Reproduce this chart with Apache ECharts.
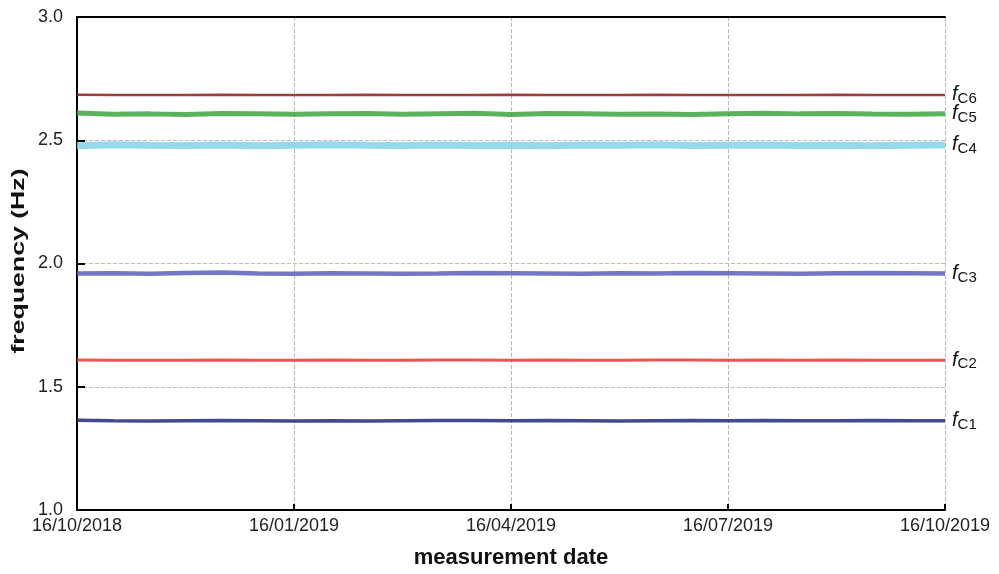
<!DOCTYPE html>
<html><head><meta charset="utf-8">
<script src="https://cdn.jsdelivr.net/npm/echarts@6/dist/echarts.min.js"></script>
<style>html,body{margin:0;padding:0;background:#fff}#c{width:999px;height:574px}</style>
</head><body><div id="c"></div>
<script>
// x positions in months since 16/10/2018 (half-month steps)
const months = [0,0.5,1,1.5,2,2.5,3,3.5,4,4.5,5,5.5,6,6.5,7,7.5,8,8.5,9,9.5,10,10.5,11,11.5,12];
const xTickLabels = ['16/10/2018','16/01/2019','16/04/2019','16/07/2019','16/10/2019'];
const fC1 = [1.364,1.362,1.361,1.362,1.363,1.362,1.361,1.362,1.361,1.362,1.363,1.363,1.362,1.363,1.362,1.361,1.362,1.363,1.362,1.363,1.362,1.362,1.363,1.362,1.362];
const fC2 = [1.609,1.608,1.607,1.608,1.609,1.608,1.608,1.609,1.608,1.608,1.609,1.609,1.608,1.609,1.608,1.607,1.609,1.609,1.608,1.609,1.608,1.609,1.608,1.608,1.608];
const fC3 = [1.959,1.960,1.958,1.961,1.963,1.959,1.958,1.960,1.959,1.958,1.959,1.961,1.960,1.959,1.958,1.960,1.959,1.961,1.960,1.959,1.958,1.960,1.961,1.960,1.959];
const fC4 = [2.478,2.482,2.480,2.479,2.481,2.478,2.480,2.482,2.480,2.479,2.481,2.479,2.480,2.478,2.481,2.480,2.482,2.479,2.480,2.481,2.479,2.480,2.478,2.480,2.481];
const fC5 = [2.611,2.605,2.607,2.604,2.609,2.607,2.605,2.607,2.609,2.605,2.608,2.610,2.604,2.609,2.607,2.605,2.606,2.604,2.608,2.610,2.607,2.609,2.606,2.605,2.607];
const fC6 = [2.685,2.684,2.684,2.684,2.685,2.684,2.684,2.684,2.685,2.684,2.684,2.684,2.685,2.684,2.684,2.684,2.685,2.684,2.684,2.684,2.684,2.685,2.684,2.684,2.684];
const seriesNames = ['C1','C2','C3','C4','C5','C6'];
const seriesData = [fC1,fC2,fC3,fC4,fC5,fC6];
const yTitle = 'frequency (Hz)';
const xTitle = 'measurement date';
const colors = ['#22297a','#e5373a','#5a5ebd','#82d2ea','#3fa43f','#8e1b20'];
const widths = [3.5,3,4.5,7,5,2.5];
const FONT = 'Liberation Sans, Arial, sans-serif';

const chart = echarts.init(document.getElementById('c'), null, {renderer:'canvas'});
const series = seriesNames.map((n,i)=>({
  name:'f'+n, type:'line', showSymbol:false, symbol:'none',
  data: months.map((m,k)=>[m, seriesData[i][k]]),
  lineStyle:{color:colors[i], width:widths[i], opacity:0.85},
  itemStyle:{color:colors[i]},
  z: 3+i,
  endLabel:{show:true, distance:7,
    formatter:'{f|f}{s|'+n+'}',
    rich:{
      f:{fontFamily:FONT, fontStyle:'italic', fontSize:20, color:'#111'},
      s:{fontFamily:FONT, fontSize:15, color:'#111', padding:[8,0,0,0]}
    }
  }
}));
const frame = {show:true, lineStyle:{color:'#000', width:2}};
chart.setOption({
  animation:false,
  grid:{left:77, right:54, top:17, bottom:64, containLabel:false, outerBoundsMode:'none'},
  graphic:[{type:'text', x:19, y:261, rotation:Math.PI/2, scaleX:1.48, z:10,
    style:{text:yTitle, fontFamily:FONT, fontSize:18, fontWeight:'bold', fill:'#111',
      align:'center', verticalAlign:'middle'}}],
  xAxis:[{type:'value', min:0, max:12, interval:3,
    name:xTitle, nameLocation:'middle', nameGap:37,
    nameTextStyle:{fontFamily:FONT, fontSize:22, fontWeight:'bold', color:'#111'},
    axisLine:frame,
    axisTick:{inside:true, length:6, lineStyle:{color:'#000', width:2}},
    axisLabel:{fontFamily:FONT, fontSize:18, color:'#222', margin:7,
      formatter:(v)=>xTickLabels[Math.round(v/3)]},
    splitLine:{show:true, lineStyle:{color:'#bbb', type:'dashed', width:1}}
  },{type:'value', position:'top', min:0, max:12, interval:3, axisLine:frame,
    axisTick:{show:false}, axisLabel:{show:false}, splitLine:{show:false}}],
  yAxis:[{type:'value', min:1.0, max:3.0, interval:0.5,
    axisLine:frame,
    axisTick:{inside:true, length:8, lineStyle:{color:'#000', width:2}},
    axisLabel:{fontFamily:FONT, fontSize:18, color:'#222', margin:14,
      formatter:(v)=>v.toFixed(1)},
    splitLine:{show:true, lineStyle:{color:'#bbb', type:'dashed', width:1}}
  },{type:'value', position:'right', min:1.0, max:3.0, interval:0.5, axisLine:frame,
    axisTick:{show:false}, axisLabel:{show:false}, splitLine:{show:false}}],
  series: series
});
</script></body></html>
